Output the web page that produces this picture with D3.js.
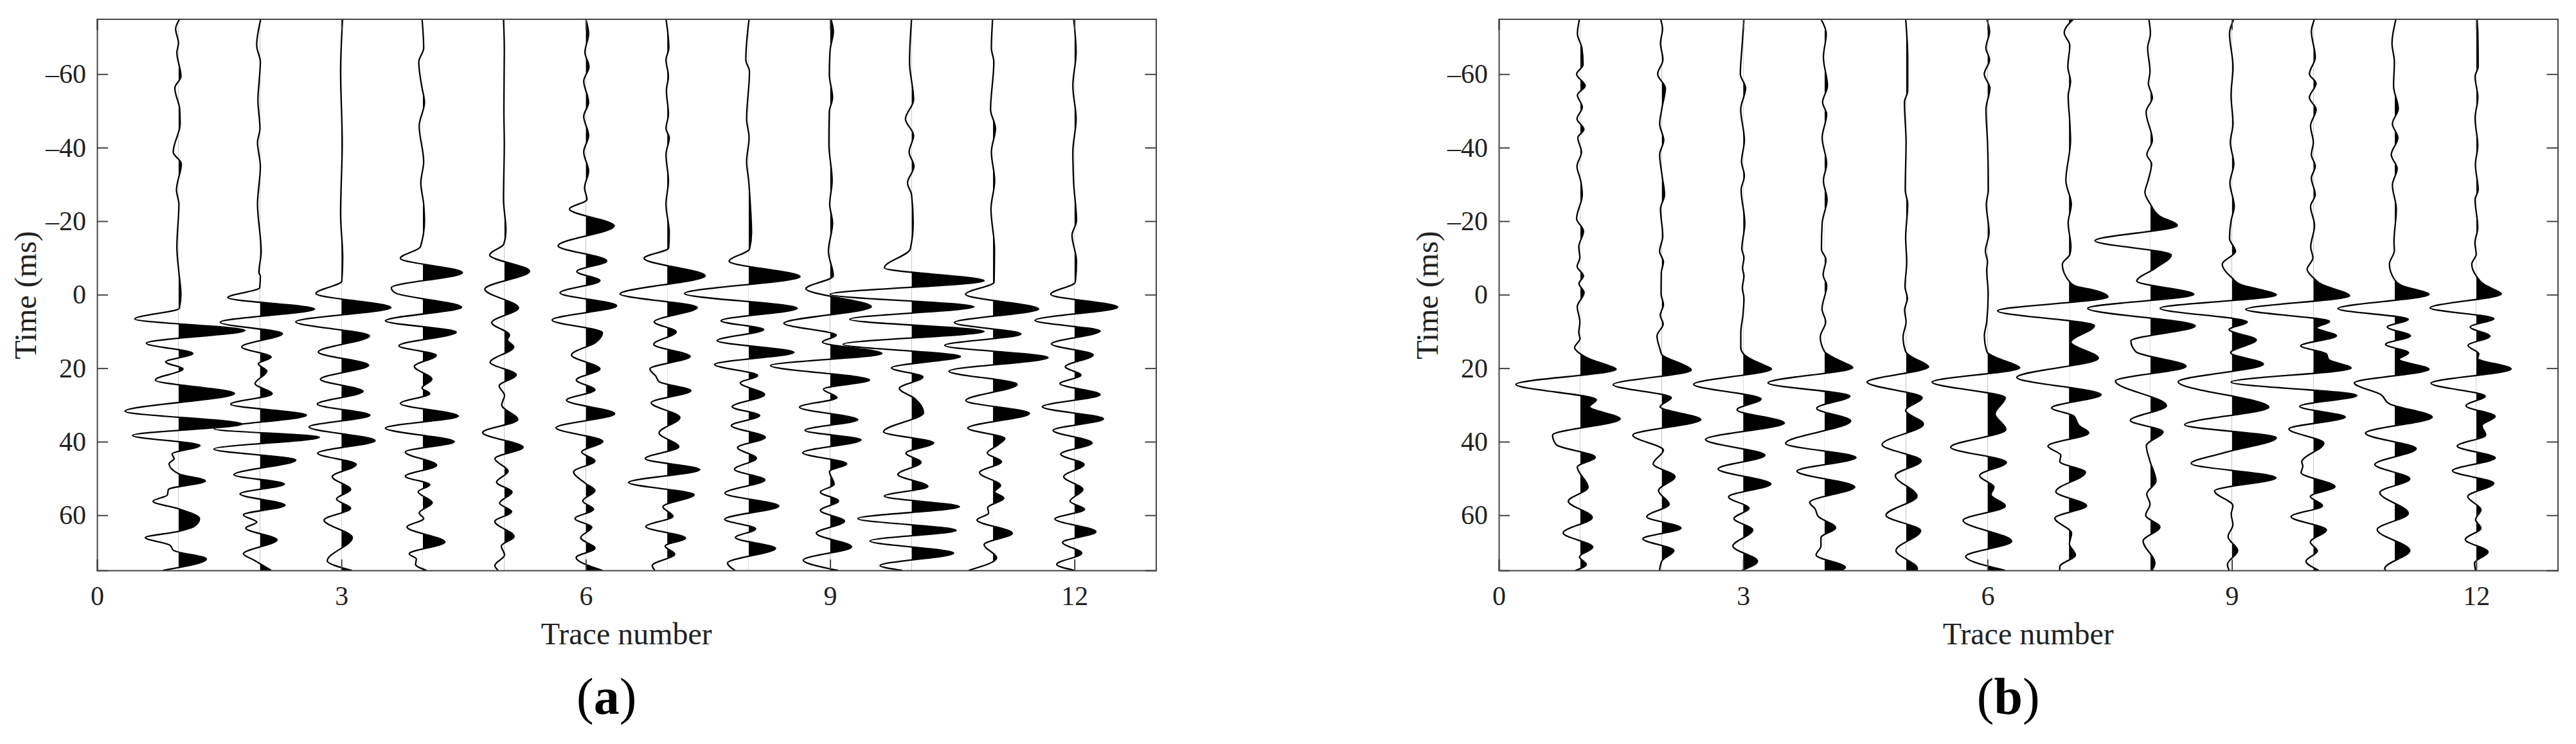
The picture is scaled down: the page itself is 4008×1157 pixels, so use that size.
<!DOCTYPE html>
<html>
<head>
<meta charset="utf-8">
<script src="https://cdn.jsdelivr.net/npm/d3@7"></script>
<style>
  html, body { margin: 0; padding: 0; background: #fff; }
  svg { display: block; }
  text { font-family: "Liberation Serif", serif; fill: #222; }
</style>
</head>
<body>
<svg id="chart" width="4008" height="1157"></svg>
<script>
// every trace is a list of [time ms, amplitude in % of one trace spacing]
const a1 = [[-75,1.5],[-72.3,-3.5],[-68.4,0],[-65.9,-2],[-59.4,3],[-56.2,-4.5],[-50.4,1.5],[-46.5,2],[-38.8,-6.5],[-35.6,3.5],[-28.5,-2.5],[-24.6,.5],[-13,-2],[-6,.5],[-.2,3],[3.7,1],[6.6,-53.7],[9.7,81.6],[13.2,-39.5],[16,17.6],[18.3,-15.8],[20.2,5.5],[23.2,-28.4],[26.9,68.7],[31.7,-65.8],[35.2,77.9],[38.3,-56.3],[41,26.3],[43.4,-7.9],[44.6,-5.3],[46,-11.6],[48.7,0],[50.7,33],[53,-12.4],[54.5,-13.7],[56.2,-31.3],[58.3,.8],[60.9,25.8],[62.9,20],[64.4,0],[66.1,-40.8],[68.1,-11],[69.6,-5.8],[71.9,34.2],[75,-19]];
const a2 = [[-75,1],[-67.8,-4],[-63.3,.5],[-59.4,-.5],[-53,-2.5],[-45.2,0],[-41.4,-3],[-34.9,.5],[-24.6,-3],[-11.7,1.5],[-6,-1.3],[-5.1,.5],[-1.9,-.3],[.8,-39.5],[3.9,67],[7.5,-48.7],[10.6,27.6],[14.2,-22.4],[17,13.7],[18.8,-2.1],[20.8,8.4],[24.2,-6],[27,15],[29.8,-36],[32.8,57],[36.5,-56],[38.8,72.9],[42,-56.6],[45,44],[49,-32],[51.5,30],[54.2,-24.5],[57.3,30.8],[59.9,-20.3],[61.9,-3.9],[63.5,-17.4],[66.7,21],[70.5,-20.3],[72.2,-7.4],[75,13.7]];
const a3 = [[-75,1.5],[-60.7,-1],[-41.4,1],[-22,-1],[-10,1.6],[-3.7,.5],[-.3,-31.3],[3.5,60.8],[7.4,-56],[11.2,34.5],[15.6,-28.4],[19.2,33.4],[23,-25.8],[26.3,26.6],[29.8,-29.7],[32.8,35],[36,-39.7],[39.7,41.3],[43.1,-29.2],[46.2,18.2],[49.5,-11.3],[53,11.3],[55.6,-6],[58.1,11.3],[61.3,-21.3],[66.1,13.4],[72.4,-17.4],[75,12.9]];
const a4 = [[-75,-1],[-67.1,1],[-63.3,-5],[-56.8,-1.5],[-52.3,2],[-45.9,-4.5],[-36.2,1],[-30.4,-2.5],[-24.6,1],[-20.1,2],[-13,-3],[-9.9,-27.6],[-6,48.5],[-1.9,-38.7],[-.5,-34],[3.4,47.5],[7.1,-46],[10.2,41],[13.9,-29.5],[16.5,16.5],[19.5,-10.5],[23,11],[25.4,-1],[26.9,8.5],[29.6,-27.6],[33,43.5],[36.3,-46],[40,38.5],[42.8,-21.6],[46.4,17],[49.4,-21.6],[51.7,8.5],[53.6,-5.8],[56.6,11.5],[59.4,-4.5],[60.9,1],[63.2,-19.5],[67.3,27],[70.5,-16.8],[71.9,-8],[73.4,-9],[75,4.7]];
const a5 = [[-75,-1],[-67,0],[-50,-.5],[-41,0],[-26,-1],[-17.5,2],[-13.8,-.5],[-10.8,-18],[-6.4,31],[-1.5,-24],[3.6,17.4],[7.6,-15.5],[11,6.3],[12.3,3.7],[14.2,11.6],[18.4,-17.4],[21.8,14.7],[24.8,-6.3],[27.4,.3],[30,-3.2],[34,16.6],[37.5,-26.6],[41.5,23],[44.6,-11.6],[48,4.7],[51,-9.5],[53.7,9.5],[56.7,-5.8],[59,8.9],[61.7,-11.6],[65.8,12],[68.4,-3.7],[70.8,.3],[73.7,-11.6],[75,-7.6]];
const a6 = [[-75,0],[-71,3.5],[-65.9,-1],[-62,4],[-58.1,-2.5],[-52.3,3.5],[-48.5,-2.5],[-43.3,3.5],[-38.8,-2.5],[-33.6,3.5],[-29.1,-1.5],[-25.9,1.5],[-23.3,-20],[-18.7,35],[-13.3,-34],[-9.2,25.8],[-6.3,-11],[-3.8,17.4],[-.5,-31.6],[3,37.9],[6.9,-41.3],[10.3,20.5],[12.9,12.6],[16.4,-17.6],[20.2,17.4],[23.2,-11.6],[25.9,11.3],[28.7,-23.7],[32.4,35.5],[36.2,-36.6],[39.9,21],[42.8,-5],[45.2,11.3],[48.2,-15],[51.3,-.5],[53.3,11.3],[56.1,-3.7],[58.4,9.5],[60.9,-13.2],[63.3,7.4],[66.1,-6.3],[69,11.3],[71.5,-11.8],[75,20.5]];
const a7 = [[-75,-1.5],[-67.1,2],[-63.9,-1.5],[-59.4,1.5],[-55.5,-1],[-49.1,1.5],[-45.2,-1.5],[-42.7,2.5],[-38.1,-1.5],[-31,1.5],[-24.6,-1.5],[-16.9,2.5],[-12.7,1.8],[-9.9,-28.4],[-5.1,46.6],[-.2,-57.9],[3.5,36.8],[7.4,-16],[10.1,11],[13.5,-16.6],[16.8,28.2],[20.2,-21.3],[22.2,-13.9],[23.7,-10],[26.1,29],[29.4,-19.7],[33.4,15.5],[37.6,-10],[41.4,14.2],[44.6,-27],[47.6,40],[51.1,-47.4],[54.4,33],[57.7,-5.3],[60.3,7.1],[63.1,-26.3],[66.2,22.4],[68.4,-2.6],[70.6,9.2],[73.7,-18.4],[75,-15.3]];
const a8 = [[-75,.5],[-63.9,-3.5],[-60.7,1],[-47.8,-2.5],[-42.7,.5],[-36.2,-2.5],[-31,0],[-24.6,2],[-16.9,3.5],[-12.4,1],[-9.1,-24],[-4.9,63],[-.3,-78.7],[3.7,59.5],[7.1,-34],[9.5,18.5],[12.5,-38.7],[15.7,55.5],[19,-41.8],[22,11],[24,-10.3],[27.2,19.5],[30.5,-20.3],[32.9,13.5],[35.6,-21.3],[38.8,20.5],[41.6,-13.7],[44.5,9.5],[47.5,-17.4],[50.4,20],[54,-29.2],[57.5,37],[61.1,-29.5],[63.7,8.5],[66.1,-16.3],[69,33],[73,-26],[75,-16.8]];
const a9 = [[-75,1],[-71.6,4],[-66.5,0],[-60,-1],[-53.6,3],[-49.7,-1],[-41,-1.5],[-31,2.5],[-24.6,-.5],[-19.5,3],[-11.8,-2.1],[-5.1,3.9],[-1.6,-29.7],[3.3,50.5],[7.8,-56.8],[11,7.6],[12.9,-9.5],[16,63.7],[19.3,-73.2],[23.2,48.4],[25.7,-8.2],[28,8.4],[30.6,-37.6],[34,34],[36.9,-31],[39.5,38],[43,-33.7],[46,20.3],[48.1,-.8],[51.6,5],[53.7,-12],[56.1,10.3],[58.7,-12],[61.6,17.6],[64.9,-17],[68.6,26.3],[72.2,-33],[75,9.7]];
const a10 = [[-75,0],[-63.3,-2.5],[-53,2.5],[-47.8,-7.5],[-43.3,2.5],[-38.8,-3],[-34.9,3],[-30.4,-5],[-27.2,0],[-19.5,2],[-12.4,-1.6],[-7.3,-33.4],[-3.8,89.2],[-.1,-100],[3.3,76.6],[6.7,-76],[10,89],[13.5,-84],[16.8,60],[19.9,-24.7],[22.4,14],[25.5,-15],[28.3,4.2],[32.1,14.7],[37.3,-34.5],[40.3,27],[43.1,-6.8],[45.6,11.6],[48.9,-16.8],[52.2,20],[54.8,-33.4],[57.7,58.7],[60.9,-66],[64.1,54.7],[67,-51],[70.3,51.6],[73.7,-38.7],[75,-11.6]];
const a11 = [[-75,-.5],[-67.1,-2],[-63.3,1],[-50.4,-3],[-45.2,3],[-38.8,-2],[-31,2],[-23.3,-2.5],[-12.4,1.8],[-3.4,1.3],[-.1,-33.7],[3.9,56],[7.6,-47.4],[10.7,34.2],[13.8,-59.2],[17.1,67.6],[20.8,-54],[24.4,29.7],[28.8,-33.4],[32.3,44.7],[36.3,-31],[39.1,14.5],[40.8,6.6],[43.1,-7],[45.4,10.5],[48.4,-16.6],[51.9,9.2],[53.6,2],[55.3,13.2],[58,-6.6],[59.4,-5.3],[61.3,-19.7],[64.9,23.7],[68,-11],[71.6,4.5],[75,-30]];
const a12 = [[-75,-1],[-65.9,2],[-56.8,-2],[-47.8,2],[-38.8,-2],[-30.4,-1],[-20.1,2.5],[-16.2,-3],[-9.1,2.5],[-3.4,1],[-.1,-29.2],[3.4,53],[7,-48.4],[9.9,31.5],[13.4,-28.4],[16.4,23],[19.6,-11.3],[21.9,7.9],[24.2,-17.9],[27.2,31.5],[30.5,-39.5],[33.8,35.5],[36.9,-26.3],[40.3,21.6],[43.4,-17],[46.2,11.8],[49.5,-13.2],[53,10.3],[56.2,-5.5],[58.4,12.4],[61,-24],[64.5,26.3],[67.4,-14.7],[70.3,8.9],[73.4,-21.8],[75,0]];

const b1 = [[-75,-1],[-71,-3.5],[-67.1,2],[-62.6,3.5],[-60,-4.5],[-56.8,6],[-54.3,-3.5],[-51,2.5],[-47.8,-4],[-45,4.5],[-42.7,-3],[-38.8,1.5],[-34.9,-4],[-31,.5],[-27.2,2.5],[-20.7,-4.5],[-17.3,4],[-13,-1.8],[-10,-.5],[-7.7,-3.9],[-5.1,3.9],[-3,-1.6],[-.6,4.7],[3.3,-3.7],[7.4,-.5],[10.3,-1.8],[12,-.3],[14.4,-7],[16.1,0],[17.6,12.6],[19,31],[20.3,44],[24.4,-79],[28.6,19.7],[30.5,11.3],[33.8,49],[38.2,-34],[40.8,-29.5],[44.2,18.4],[46.9,-3.7],[52.4,9.5],[56.2,-14.7],[60.6,14.7],[64.8,-21],[68.7,15.3],[71.3,-1],[73.4,7.4],[75,-5.8]];
const b2 = [[-75,-1.5],[-72.3,1],[-68.4,-1.5],[-63.9,1.5],[-60,-5],[-56.2,4.5],[-51,.5],[-46.5,-2.5],[-42,2.5],[-38.1,-2.5],[-32.3,.5],[-27.2,3.5],[-23.3,-1.5],[-15.9,1.3],[-11.8,-2.6],[-8.9,2.1],[-6,-.5],[-.2,-.8],[2.7,2.1],[5.6,-1.8],[8,1.8],[11.2,-5.8],[14.9,-2],[16.3,0],[17.6,10.5],[19,26],[20.5,36.3],[24.5,-59.7],[28,11.8],[30.5,-2],[34,48],[38.2,-35.5],[42.3,2.1],[46,-10.5],[49.5,16.3],[53.3,-3.9],[57,9.2],[60.4,-18.4],[63.5,23.7],[66.4,-23.2],[69.6,15],[72.5,0],[75,-2.6]];
const b3 = [[-75,1],[-67.1,-1.5],[-60,-3.5],[-56.2,3],[-50.4,-3],[-42,1.5],[-36.2,-2],[-32.3,1.5],[-28.5,-2.5],[-19.5,2],[-12.4,-1.6],[-10,1],[-7.2,-.8],[-5.1,1],[-1.9,-1],[1,1],[5.6,-.3],[10.3,-2.9],[14.4,-2.9],[16,0],[17.6,10],[19.2,26],[20.2,34.7],[24.4,-60.8],[28.4,22],[31.3,-7.6],[34.9,50.5],[39.4,-46.3],[43.7,26.8],[47.4,-30.8],[51.5,34],[55,-17.9],[58.1,7.1],[60.9,-11.3],[64,11.8],[68.4,-12.6],[72.5,17.6],[75,-1.6]];
const b4 = [[-75,-4.5],[-71,2],[-64.6,-1.5],[-56.8,3.5],[-52.3,-2.5],[-49.1,2.5],[-42.7,-3],[-35.6,2.5],[-31,-1.5],[-25.9,3],[-19.5,-3],[-12.4,-3.9],[-9.5,1.6],[-5.4,-1.8],[-2.5,2.6],[3.9,-3.2],[7.4,1.3],[11.5,-5.3],[15.5,0],[17,10],[18.5,24],[19.8,34.5],[24,-69.5],[27.6,31],[30.9,-9.7],[34.3,32],[40.5,-47.9],[44.3,38.5],[48,-34],[52.3,37],[56.5,-18.4],[58.3,-11.6],[60.3,-7.9],[63.4,13.5],[66.1,-4.5],[68.4,-4.5],[70.8,-10.5],[74.2,25.5],[75,20]];
const b5 = [[-75,-.5],[-64.6,2],[-55.5,2],[-52.3,-2],[-41.4,0],[-28.5,-1],[-24.6,2],[-15.5,-.5],[-8.9,.8],[-2.2,-1.3],[1,1.6],[4.2,-1.8],[7.4,0],[11.5,-3.7],[15.5,-.5],[17.3,10],[18.4,20.5],[19.6,27.6],[23.8,-47.9],[28,19.7],[31.5,-.5],[35.2,21.3],[40.8,-29.5],[45.2,18.4],[49.2,-13.2],[54.8,13.4],[60,-24.7],[64.2,17.9],[69.6,-12.4],[74.5,13.9],[75,13]];
const b6 = [[-75,-1],[-71.6,2.5],[-67.1,-2],[-63.9,2.5],[-60,-4],[-56.2,2.9],[-50.4,-1.9],[-41.4,0],[-28.5,1],[-24.6,-1.5],[-16.9,1.9],[-11.8,-2.6],[-8.9,0],[-6.9,-1],[-.2,.8],[7.4,-1],[11.2,-3.9],[14.9,-1.6],[15.8,0],[17.3,12.6],[18.7,29.7],[19.9,39.5],[23.8,-68],[28,21.8],[32.4,9.2],[36.7,22.6],[41.5,-45.3],[45.6,23.2],[49.2,-9.7],[52.4,7.9],[54.4,4.2],[57.5,21.8],[61.4,-30],[67.1,29.7],[71.2,-26.8],[75,21.8]];
const b7 = [[-75,5.8],[-71.3,-5.8],[-67.8,1],[-62,-1.4],[-58,1.9],[-54,-1],[-47,1],[-42,1.9],[-31,-3.8],[-24.6,2.9],[-19.5,-1],[-13,2.4],[-10.9,1],[-8.3,-8.2],[-3.7,0],[-2.2,9.7],[-1.5,25.5],[.6,47.9],[4.4,-87.6],[8.4,31.3],[12.9,2.4],[17.3,36],[22.5,-64],[27.2,39.5],[30.8,-21.3],[33,5.8],[35.6,12.4],[37.6,24.2],[41.2,-25.8],[43.7,-10],[45.4,-11.3],[48.3,20.3],[53.6,-16.1],[57.4,21.6],[60.8,-17.4],[64.9,3.2],[67.8,.5],[70.8,7.9],[74,-11.3],[75,-11.3]];
const b8 = [[-75,-2],[-71,0],[-67.1,-3.4],[-60.7,-.5],[-57.5,-2.5],[-53.6,2.4],[-49.7,-5.3],[-42,2.4],[-38.1,-4.3],[-35.6,1.4],[-31,-2.9],[-27.8,-6.7],[-24.6,0],[-21.4,11],[-18.8,33],[-14.7,-68],[-10.8,25.5],[-7.2,6],[-3.7,-16.8],[-.1,53.4],[3.7,-77],[8.5,55],[12.6,-24],[15.5,-18],[19.5,43.7],[23.5,-43],[30.2,19.7],[34.2,-24.7],[37.3,15.5],[41.1,-5],[45,-1],[50.7,6.8],[54.2,-4.5],[57,-.5],[60,-5.8],[63.2,11.6],[67,-9],[73,5.5],[75,2]];
const b9 = [[-75,2.4],[-71,-2.9],[-62,1.4],[-54.3,-1],[-46.5,1.4],[-41.4,-1.9],[-35.6,2.4],[-30.4,-2.4],[-24,2.9],[-20.1,-1],[-15.3,-2.9],[-11.8,4.5],[-8.3,-11.8],[-4.6,0],[-2.6,12.4],[-1.6,31],[.1,54.5],[3.7,-88],[7.4,18.9],[9.5,-3.4],[12.3,30],[15.8,-1.6],[18.9,38.7],[23.7,-66],[30.6,45.3],[35.4,-58],[38.9,54.5],[43.1,-11.3],[45.9,-50],[49.8,54],[53.4,-21.3],[57.4,1.3],[59.7,-.8],[62.6,1.3],[65.8,-4.7],[69.6,7.1],[73.4,-5.5],[75,-3.4]];
const b10 = [[-75,1.5],[-71.6,-2.4],[-64.6,2.4],[-60,-4.8],[-57.5,3.4],[-53.6,-4.8],[-50.4,3.4],[-45.9,-3.4],[-41.4,0],[-38.1,-2.4],[-34.9,2.4],[-31.7,-2.4],[-27.2,2.4],[-24,-3.4],[-18.8,1.5],[-13,-3.2],[-10,-.5],[-6.9,-7.6],[-4.6,0],[-2.6,12],[-1.6,25],[.3,44.5],[4,-83],[7.3,20],[9,4.2],[11.2,28.4],[13.9,-15.5],[16.1,16],[17.6,18.7],[20,46.3],[23.8,-101],[27.4,53.4],[30.4,-16.8],[33.3,39.2],[36.5,-30],[40.4,12.9],[45.5,-14.2],[46.6,-12.9],[48.4,-15],[52.2,26.6],[54.9,-3.7],[57.4,11.3],[60.4,-27.4],[64,16],[67.3,-3.7],[69.7,5],[72.5,-9],[75,6.8]];
const b11 = [[-75,1.5],[-68.4,-3.4],[-63.3,-.5],[-56.8,-1.5],[-50.6,4.3],[-46.5,-2.9],[-42.7,3.8],[-38.1,-4.3],[-34.3,2.9],[-29.8,-2.9],[-23.3,1.9],[-14.3,-1],[-12,-.5],[-8.3,-6.6],[-4,0],[-2.2,11.8],[-1.3,27.5],[-.1,42],[3.8,-69.7],[6.7,16.6],[8.8,-9.2],[11.2,19.2],[13.5,-11.3],[15.8,17],[17.6,5.3],[20.3,42],[24,-49.7],[27.2,-17],[29.7,-6.6],[33.3,46],[37.7,-36],[41.9,26.3],[46.2,-24.5],[50.1,18.4],[53.8,-18.4],[59.5,16.6],[63.9,-21.6],[69.6,18.4],[74.5,-12.4],[75,-11]];
const b12 = [[-75,1],[-71,2],[-62,2.4],[-59.4,-1.4],[-53.6,2],[-48,-1.4],[-40.5,1.9],[-35.4,-1],[-28.5,2.4],[-25.9,-1.4],[-18.2,1.9],[-14.1,-1.6],[-11,0],[-8.3,-5.5],[-5.1,0],[-2.8,9.7],[-1.6,20],[-.2,30.8],[3.6,-56.6],[6.5,21.6],[8.8,-7.4],[11.3,16.8],[13.8,-10],[16.1,3.2],[17.3,1.8],[20.2,42.8],[24.1,-55.5],[27.6,11],[30.2,-12.6],[33.1,23.2],[35.6,7],[38.2,11.6],[41.2,-23.4],[44.4,23.4],[47.9,-29.2],[51.3,21.6],[54.9,-10.5],[58.5,5.8],[61.2,-.8],[63.5,5.8],[66.6,-13.4],[70,14.5],[73,-2.1],[75,-.8]];

const tracesA = [a1, a2, a3, a4, a5, a6, a7, a8, a9, a10, a11, a12];
const tracesB = [b1, b2, b3, b4, b5, b6, b7, b8, b9, b10, b11, b12];
const xTicks = [0, 3, 6, 9, 12];
const yTicks = [-60, -40, -20, 0, 20, 40, 60];

const svg = d3.select("#chart");
const panelW = 1647.5;
const top_ = 29.5, bottom = 887;
const y = d3.scaleLinear().domain([-75, 75]).range([top_, bottom]);

function drawPanel(id, left, traces, letter) {
  const x = d3.scaleLinear().domain([0, 13]).range([left, left + panelW]);
  const g = svg.append("g").attr("class", "panel-" + id);

  // nothing leaves the box
  svg.append("clipPath").attr("id", "box-" + id)
    .append("rect")
    .attr("x", x(0)).attr("y", top_)
    .attr("width", panelW).attr("height", bottom - top_);

  const plot = g.append("g").attr("clip-path", "url(#box-" + id + ")");

  traces.forEach(function(trace, i) {
    const n = i + 1;
    const clipId = "pos-" + id + n;
    // only the part right of the trace's own zero line gets filled
    svg.append("clipPath").attr("id", clipId)
      .append("rect")
      .attr("x", x(n)).attr("y", top_)
      .attr("width", x(13) - x(n)).attr("height", bottom - top_);

    const area = d3.area()
      .curve(d3.curveMonotoneY)
      .y(d => y(d[0]))
      .x0(x(n))
      .x1(d => x(n + d[1] / 100));
    const line = d3.line()
      .curve(d3.curveMonotoneY)
      .y(d => y(d[0]))
      .x(d => x(n + d[1] / 100));

    plot.append("g").attr("clip-path", "url(#" + clipId + ")")
      .append("path")
      .datum(trace)
      .attr("d", area)
      .attr("fill", "#000");
    plot.append("path")
      .datum(trace)
      .attr("d", line)
      .attr("fill", "none")
      .attr("stroke", "#000")
      .attr("stroke-width", 2.3);
  });

  // axes, ticks pointing inward on all four sides
  const fmt = d => (d < 0 ? "\u2013" + Math.abs(d) : String(d));
  const styleAxis = function(sel) {
    sel.selectAll("path").attr("stroke", "#444").attr("stroke-width", 2);
    sel.selectAll("line").attr("stroke", "#444").attr("stroke-width", 2);
    sel.selectAll("text").attr("font-size", 42)
      .attr("font-family", "Liberation Serif").attr("fill", "#222");
  };
  g.append("g").attr("transform", "translate(" + left + ",0)")
    .call(d3.axisLeft(y).tickValues(yTicks).tickFormat(fmt).tickSize(-17).tickPadding(17))
    .call(styleAxis);
  g.append("g").attr("transform", "translate(" + (left + panelW) + ",0)")
    .call(d3.axisRight(y).tickValues(yTicks).tickFormat("").tickSize(-17))
    .call(styleAxis);
  g.append("g").attr("transform", "translate(0," + bottom + ")")
    .call(d3.axisBottom(x).tickValues(xTicks).tickFormat(d3.format("d")).tickSize(-17).tickPadding(24))
    .call(styleAxis);
  g.append("g").attr("transform", "translate(0," + top_ + ")")
    .call(d3.axisTop(x).tickValues(xTicks).tickFormat("").tickSize(-17))
    .call(styleAxis);

  g.append("text")
    .attr("x", left + panelW / 2).attr("y", 1002)
    .attr("text-anchor", "middle").attr("font-size", 48)
    .text("Trace number");
  g.append("text")
    .attr("transform", "translate(" + (left - 95) + ",459) rotate(-90)")
    .attr("text-anchor", "middle").attr("font-size", 48)
    .text("Time (ms)");

  const cap = g.append("text")
    .attr("x", left + panelW / 2 - 31).attr("y", 1110)
    .attr("text-anchor", "middle").attr("font-size", 80)
    .style("fill", "#000");
  cap.append("tspan").text("(");
  cap.append("tspan").attr("font-weight", "bold").text(letter);
  cap.append("tspan").text(")");
}

drawPanel("a", 151, tracesA, "a");
drawPanel("b", 2332, tracesB, "b");
</script>
</body>
</html>
